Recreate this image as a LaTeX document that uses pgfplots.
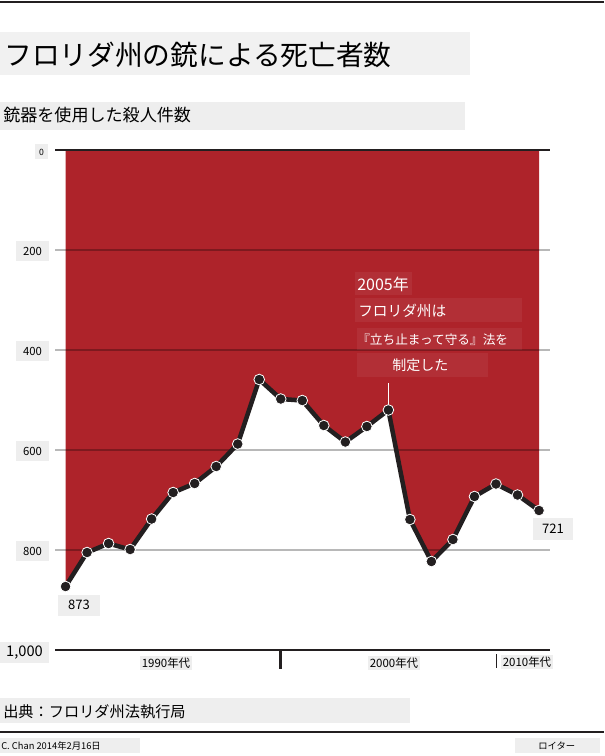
\documentclass[border=0pt]{standalone}
\usepackage{pgfplots}
\pgfplotsset{compat=1.18}
\usepackage{fontspec}
\setmainfont{Noto Sans CJK JP}
\definecolor{fred}{RGB}{174,35,42}
\definecolor{ink}{RGB}{35,31,32}
\definecolor{boxg}{RGB}{238,238,238}
\begin{document}
\begin{tikzpicture}[x=0.75pt,y=-0.75pt]
\path[use as bounding box] (0,0) rectangle (604,756);
% top rule
\draw[ink, line width=1.5pt] (0,2) -- (604,2);
% title
\fill[boxg!80] (0,32) rectangle (470,75);
\node[anchor=base west, inner sep=0pt, font=\fontsize{20.8}{24}\selectfont] at (4,66) {フロリダ州の銃による死亡者数};
% subtitle
\fill[boxg] (0,102) rectangle (465,130);
\node[anchor=base west, inner sep=0pt, font=\fontsize{12.8}{15}\selectfont] at (3,122) {銃器を使用した殺人件数};

\begin{axis}[at={(41.25pt,-112.5pt)}, anchor=north west, scale only axis,
  width=371.25pt, height=375pt, xmin=1989.51, xmax=2012.51, ymin=0, ymax=1000,
  y dir=reverse, axis lines=none, clip=false]
\addplot[fill=fred, draw=none] coordinates {
(1990,873) (1991,805) (1992,787) (1993,799) (1994,738) (1995,685) (1996,667)
(1997,633) (1998,588) (1999,459) (2000,498) (2001,501) (2002,551) (2003,584)
(2004,553) (2005,520) (2006,739) (2007,823) (2008,779) (2009,693) (2010,668)
(2011,690) (2012,721)} \closedcycle;
\foreach \v in {200,400,600,800}{
  \edef\tmp{\noexpand\draw[black, opacity=0.28, line width=1.3pt] (axis cs:1989.51,\v) -- (axis cs:2012.51,\v);}\tmp
}
\draw[ink, line width=2.2pt] (axis cs:1989.51,0) -- (axis cs:2012.51,0);
\draw[ink, line width=2pt] (axis cs:1989.51,1000) -- (axis cs:2012.51,1000);
\draw[ink, line width=2pt] (axis cs:2000,1000) -- (axis cs:2000,1038);
\draw[ink, line width=0.6pt] (axis cs:2010,1008) -- (axis cs:2010,1036);
% annotation line
\draw[white, line width=0.8pt] (axis cs:2005,466) -- (axis cs:2005,515);
\addplot[ink, line width=3.4pt, mark=*, mark size=4pt,
  mark options={fill=ink, draw=white, line width=0.6pt}] coordinates {
(1990,873) (1991,805) (1992,787) (1993,799) (1994,738) (1995,685) (1996,667)
(1997,633) (1998,588) (1999,459) (2000,498) (2001,501) (2002,551) (2003,584)
(2004,553) (2005,520) (2006,739) (2007,823) (2008,779) (2009,693) (2010,668)
(2011,690) (2012,721)};
\end{axis}

% y tick labels
\node[fill=boxg, inner sep=0pt, minimum width=13*0.75pt, minimum height=15*0.75pt, font=\fontsize{6.5}{8}\selectfont] at (41.5,152) {0};
\foreach \v/\y in {200/251,400/351,600/451,800/551}{
  \node[fill=boxg, inner sep=0pt, minimum width=33*0.75pt, minimum height=20*0.75pt, font=\fontsize{8.5}{10}\selectfont] at (32.5,\y) {\v};
}
\node[fill=boxg, inner sep=0pt, minimum width=49*0.75pt, minimum height=21*0.75pt, font=\fontsize{11}{12}\selectfont] at (24.5,652.5) {1,000};

% x labels
\node[fill=boxg, inner sep=1.5pt, font=\fontsize{8.6}{10}\selectfont] at (166,663) {1990年代};
\node[fill=boxg, inner sep=1.5pt, font=\fontsize{8.6}{10}\selectfont] at (394,663) {2000年代};
\node[fill=boxg, inner sep=1.5pt, font=\fontsize{8.6}{10}\selectfont] at (527,662) {2010年代};

% value labels
\node[fill=boxg, inner sep=0pt, minimum width=42*0.75pt, minimum height=21*0.75pt, font=\fontsize{9.8}{11}\selectfont] at (79,605) {873};
\node[fill=boxg, inner sep=0pt, minimum width=40*0.75pt, minimum height=22*0.75pt, font=\fontsize{9.8}{11}\selectfont] at (553,529) {721};

% annotation
\fill[white, opacity=0.06] (355,272) rectangle (412,295);
\fill[white, opacity=0.06] (355,298) rectangle (522,322);
\fill[white, opacity=0.06] (357,328) rectangle (522,350);
\fill[white, opacity=0.06] (357,353) rectangle (488,377);
\node[anchor=base west, inner sep=0pt, text=white, font=\fontsize{12}{14}\selectfont] at (357,290) {2005年};
\node[anchor=base west, inner sep=0pt, text=white, font=\fontsize{11}{13}\selectfont] at (358,316) {フロリダ州は};
\node[anchor=base west, inner sep=0pt, text=white, font=\fontsize{9.5}{12}\selectfont] at (357,344) {『立ち止まって守る』法を};
\node[anchor=base west, inner sep=0pt, text=white, font=\fontsize{10.5}{12}\selectfont] at (392,370) {制定した};

% source
\fill[boxg] (0,698) rectangle (410,723);
\node[anchor=base west, inner sep=0pt, font=\fontsize{11.4}{13}\selectfont] at (3,717) {出典：フロリダ州法執行局};
\draw[ink, line width=1.5pt] (0,732) -- (604,732);
% footer
\fill[boxg] (0,738) rectangle (140,753);
\node[anchor=base west, inner sep=0pt, font=\fontsize{7}{8}\selectfont] at (1,749) {C. Chan 2014年2月16日};
\fill[boxg] (515,738) rectangle (600,753);
\node[anchor=base west, inner sep=0pt, font=\fontsize{7}{8}\selectfont] at (538,749) {ロイター};
\end{tikzpicture}
\end{document}
